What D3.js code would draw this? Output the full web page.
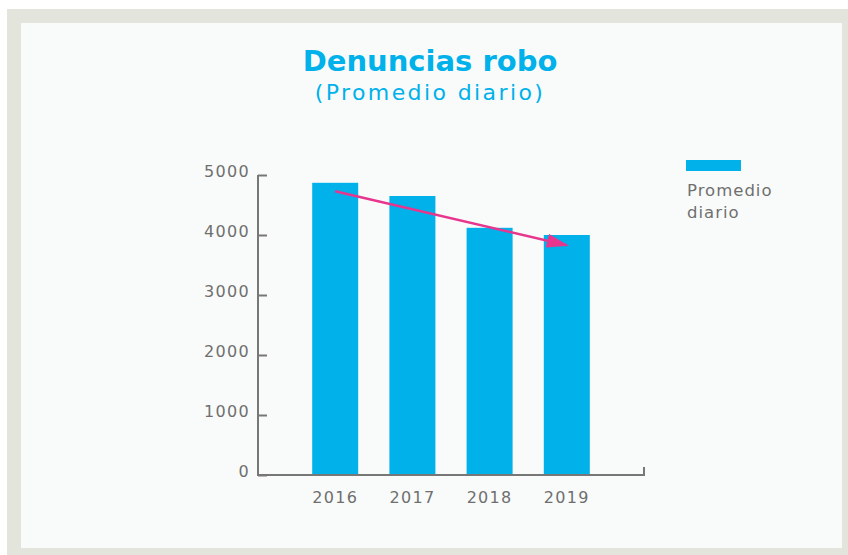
<!DOCTYPE html>
<html>
<head>
<meta charset="utf-8">
<script src="https://cdn.jsdelivr.net/npm/d3@7"></script>
<style>
	body { margin: 0; background: #ffffff; }
	text { font-family: 'DejaVu Sans', sans-serif; }
</style>
</head>
<body>
<div id="chart"></div>
<script>
// data
const years = [ '2016', '2017', '2018', '2019' ];
const promedio = [ 4870, 4650, 4120, 4000 ];
const yTicks = [ 0, 1000, 2000, 3000, 4000, 5000 ];
const trendFrom = [ '2016', 4730 ];
const trendTo = [ '2019', 3830 ];

let dimensions = {
	width  : 848,
	height : 555,
	margin : {
		top    : 175,
		right  : 204,
		bottom : 80,
		left   : 258
	}
};
dimensions.boundedWidth = dimensions.width - dimensions.margin.left - dimensions.margin.right;
dimensions.boundedHeight = dimensions.height - dimensions.margin.top - dimensions.margin.bottom;

const blue = '#00b1ea';
const gray = '#6f6f6f';
const pink = '#e8358e';

const svg = d3
	.select('#chart')
	.append('svg')
	.attr('width', dimensions.width)
	.attr('height', dimensions.height);

// frame
svg.append('rect').attr('x', 7).attr('y', 9).attr('width', 841).attr('height', 546).attr('fill', '#e3e5dc');
svg.append('rect').attr('x', 21).attr('y', 23).attr('width', 821).attr('height', 525).attr('fill', '#f9fbfa');

// title
svg
	.append('text')
	.text('Denuncias robo')
	.attr('x', 430)
	.attr('y', 71)
	.attr('text-anchor', 'middle')
	.attr('font-size', '29px')
	.attr('font-weight', 'bold')
	.attr('fill', blue);

svg
	.append('text')
	.text('(Promedio diario)')
	.attr('x', 430)
	.attr('y', 100)
	.attr('text-anchor', 'middle')
	.attr('font-size', '22px')
	.attr('letter-spacing', '2.4px')
	.attr('fill', blue);

const bounds = svg
	.append('g')
	.attr('transform', `translate(${dimensions.margin.left}, ${dimensions.margin.top})`);

const x = d3.scalePoint().domain(years).range([ 0, dimensions.boundedWidth ]).padding(1);
const y = d3.scaleLinear().domain([ 0, 5000 ]).range([ dimensions.boundedHeight, 0 ]);

const barWidth = 46;

bounds
	.selectAll('rect.bar')
	.data(years)
	.enter()
	.append('rect')
	.attr('class', 'bar')
	.attr('x', (d) => x(d) - barWidth / 2)
	.attr('y', (d, i) => y(promedio[i]))
	.attr('width', barWidth)
	.attr('height', (d, i) => y(0) - y(promedio[i]))
	.attr('fill', blue);

// y axis
const yAxis = bounds
	.append('g')
	.call(d3.axisRight(y).tickValues(yTicks).tickSize(9).tickFormat((d) => d));
yAxis.select('.domain').remove();
yAxis.selectAll('.tick line').attr('stroke', '#777').attr('stroke-width', 2);
yAxis
	.selectAll('.tick text')
	.attr('x', -8)
	.attr('dy', '0.1em')
	.attr('text-anchor', 'end')
	.attr('font-size', '16px')
	.attr('letter-spacing', '1.3px')
	.attr('fill', gray);

// axis lines
bounds
	.append('path')
	.attr('d', `M0,${y(5000)}V${y(0)}H${dimensions.boundedWidth}V${y(0) - 8}`)
	.attr('fill', 'none')
	.attr('stroke', '#777')
	.attr('stroke-width', 2);

// x labels
bounds
	.selectAll('text.year')
	.data(years)
	.enter()
	.append('text')
	.attr('class', 'year')
	.text((d) => d)
	.attr('x', (d) => x(d))
	.attr('y', y(0) + 28)
	.attr('text-anchor', 'middle')
	.attr('font-size', '16px')
	.attr('letter-spacing', '1.3px')
	.attr('fill', gray);

// trend arrow
svg
	.append('defs')
	.append('marker')
	.attr('id', 'arrow')
	.attr('viewBox', '0 0 22 14')
	.attr('refX', 20)
	.attr('refY', 7)
	.attr('markerWidth', 22)
	.attr('markerHeight', 14)
	.attr('markerUnits', 'userSpaceOnUse')
	.attr('orient', 'auto')
	.append('path')
	.attr('d', 'M0,0L22,7L0,14Z')
	.attr('fill', pink);

const x1 = x(trendFrom[0]), y1 = y(trendFrom[1]);
const x2 = x(trendTo[0]), y2 = y(trendTo[1]);

bounds
	.append('line')
	.attr('x1', x1)
	.attr('y1', y1)
	.attr('x2', x2)
	.attr('y2', y2)
	.attr('stroke', pink)
	.attr('stroke-width', 2.5)
	.attr('marker-end', 'url(#arrow)');

// legend
const legend = svg.append('g').attr('transform', 'translate(686, 160)');
legend.append('rect').attr('width', 55).attr('height', 11).attr('fill', blue);
legend
	.append('text')
	.attr('x', 1)
	.attr('y', 36)
	.attr('font-size', '16.5px')
	.attr('letter-spacing', '1px')
	.attr('fill', gray)
	.text('Promedio');
legend
	.append('text')
	.attr('x', 1)
	.attr('y', 58)
	.attr('font-size', '16.5px')
	.attr('letter-spacing', '1px')
	.attr('fill', gray)
	.text('diario');
</script>
</body>
</html>
